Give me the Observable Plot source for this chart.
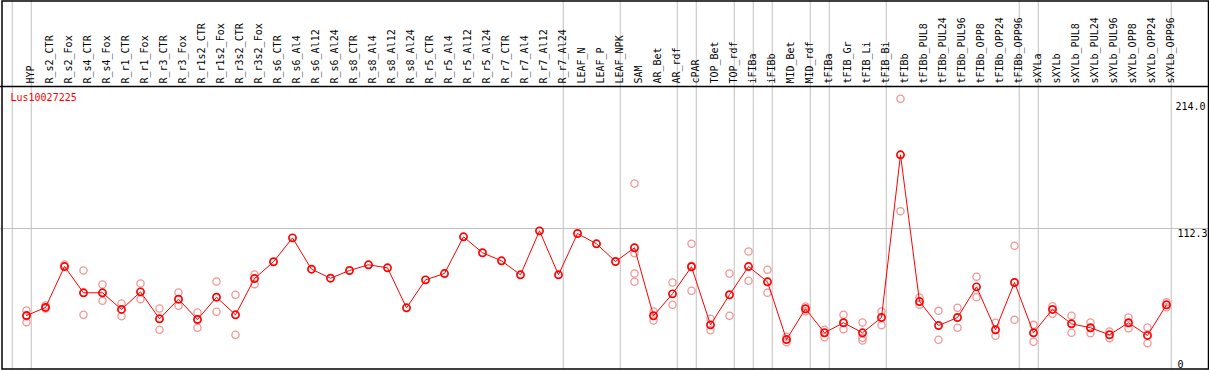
<!DOCTYPE html>
<html>
<head>
<meta charset="utf-8">
<script src="https://cdn.jsdelivr.net/npm/d3@7"></script>
<script src="https://cdn.jsdelivr.net/npm/@observablehq/plot@0.6"></script>
<style>
  html, body { margin: 0; padding: 0; background: #fff; }
  svg { display: block; }
</style>
</head>
<body>
<div id="chart"></div>
<script>
const title = "Lus10027225";

const categories = ["HYP","R_s2_CTR","R_s2_Fox","R_s4_CTR","R_s4_Fox","R_r1_CTR","R_r1_Fox","R_r3_CTR","R_r3_Fox","R_r1s2_CTR","R_r1s2_Fox","R_r3s2_CTR","R_r3s2_Fox","R_s6_CTR","R_s6_Al4","R_s6_Al12","R_s6_Al24","R_s8_CTR","R_s8_Al4","R_s8_Al12","R_s8_Al24","R_r5_CTR","R_r5_Al4","R_r5_Al12","R_r5_Al24","R_r7_CTR","R_r7_Al4","R_r7_Al12","R_r7_Al24","LEAF_N","LEAF_P","LEAF_NPK","SAM","AR_Bet","AR_rdf","cPAR","TOP_Bet","TOP_rdf","iFIBa","iFIBb","MID_Bet","MID_rdf","tFIBa","tFIB_Gr","tFIB_Li","tFIB_Bi","tFIBb","tFIBb_PUL8","tFIBb_PUL24","tFIBb_PUL96","tFIBb_OPP8","tFIBb_OPP24","tFIBb_OPP96","sXYLa","sXYLb","sXYLb_PUL8","sXYLb_PUL24","sXYLb_PUL96","sXYLb_OPP8","sXYLb_OPP24","sXYLb_OPP96"];

// sizes of the sample groups (separated by grey lines)
const groupSizes = [1, 28, 3, 3, 1, 2, 1, 1, 2, 1, 3, 7, 1, 7];

const means = [37.7,44.6,79.7,57.2,57.2,42.9,58.0,34.9,51.7,34.3,53.4,38.3,69.4,83.8,104.3,77.4,69.7,76.3,81.2,78.6,44.3,68.3,73.7,105.2,91.5,84.6,72.6,110.3,72.6,108.0,99.2,84.0,95.8,37.5,56.3,79.5,29.7,55.5,79.7,66.6,17.1,43.5,22.9,31.5,22.9,36.0,175.5,49.7,29.1,36.0,62.3,25.5,66.0,22.9,42.9,30.6,27.2,21.2,31.5,20.6,46.9];

const replicates = [
  [42.0,36.9,32.0],[46.3,43.7],[81.4],[76.3,38.3],[64.3,50.3],[48.0,37.1],[65.2,51.7],[43.7,25.5],[57.4,46.0],[40.3,27.2],
  [66.9,40.9],[55.5,21.2],[72.9,64.6],[],[],[],[],[],[],[],
  [],[],[],[],[],[],[],[],[],[],
  [],[],[150.9,91.1,73.7,66.6],[41.1,33.4],[66.0,46.9],[99.2,80.3,58.9],[34.9,25.1],[73.7,37.5],[92.6,67.5],[76.9,57.2],
  [19.5,14.8],[45.4,41.4],[25.5,19.1],[38.3,26.0],[31.7,18.6,16.3],[41.1,29.4],[223.5,127.1],[53.2,46.9],[41.7,16.9],[44.3,27.2],
  [70.9,53.4],[31.5,20.3],[97.5,34.0],[29.7,15.2],[45.7,39.2],[37.5,22.9],[31.7,22.5],[24.0,18.3],[36.0,26.8],[27.4,14.0],
  [49.1,44.8]
];

const yTicks = [0, 112.3, 214.0];
const yTickLabels = ["0", "112.3", "214.0"];
const gridValues = [112.3];

// derived tables
const meanRows = categories.map((c, i) => ({i, cat: c, v: means[i]}));
const repRows = replicates.flatMap((arr, i) => arr.map(v => ({i, v})));
const separators = [-0.75];
{ let acc = 0; for (const s of groupSizes) { acc += s; separators.push(acc - 1 + 0.25); } }

const W = 1209, H = 370;
const font = "'DejaVu Sans Mono', 'Liberation Mono', monospace";

const chart = Plot.plot({
  width: W,
  height: H,
  marginTop: 86,
  marginBottom: 1,
  marginLeft: 0,
  marginRight: 0,
  style: {fontFamily: font, fontSize: "10px", background: "#fff"},
  x: {type: "linear", domain: [0, categories.length - 1], range: [26, 1166], axis: null},
  y: {type: "linear", domain: [0, 214], range: [359, 359 - 214 * 1.1665], axis: null},
  marks: [
    Plot.ruleX(separators, {x: d => d, stroke: "#c0c0c0", strokeWidth: 1, insetTop: -86}),
    Plot.ruleY(gridValues, {y: d => d, stroke: "#c0c0c0", strokeWidth: 1}),
    Plot.dot(repRows, {x: "i", y: "v", r: 3.6, stroke: "#f09696", strokeWidth: 1.3, fill: "none"}),
    Plot.line(meanRows, {x: "i", y: "v", stroke: "#ff0000", strokeWidth: 1}),
    Plot.dot(meanRows, {x: "i", y: "v", r: 3.6, stroke: "#ff0000", strokeWidth: 1.7, fill: "none"}),
    // column labels in the header
    Plot.text(meanRows, {x: "i", text: "cat", frameAnchor: "top", dy: -3, rotate: -90, textAnchor: "start", fill: "#000", fontSize: 10}),
    // title
    Plot.text([title], {text: d => d, frameAnchor: "top-left", dx: 10, dy: 7, lineAnchor: "top", textAnchor: "start", fill: "#ff0000", fontSize: 10}),
    // y tick labels
    Plot.text(yTicks.slice(0, 2), {y: d => d, text: (d, i) => yTickLabels[i], frameAnchor: "right", dx: -32, textAnchor: "start", lineAnchor: "top", dy: 1, fill: "#000", fontSize: 10}),
    Plot.text(yTicks.slice(2), {y: d => d, text: (d, i) => yTickLabels[i + 2], frameAnchor: "right", dx: -34, textAnchor: "start", lineAnchor: "bottom", fill: "#000", fontSize: 10}),
    // header separator line and outer border
    Plot.frame({anchor: "top", stroke: "#000", strokeWidth: 1.5}),
    Plot.frame({stroke: "#000", strokeWidth: 1.5, insetTop: -85.5, insetLeft: 1.5, insetRight: 1, insetBottom: 0.5})
  ]
});
document.getElementById("chart").appendChild(chart);
</script>
</body>
</html>
